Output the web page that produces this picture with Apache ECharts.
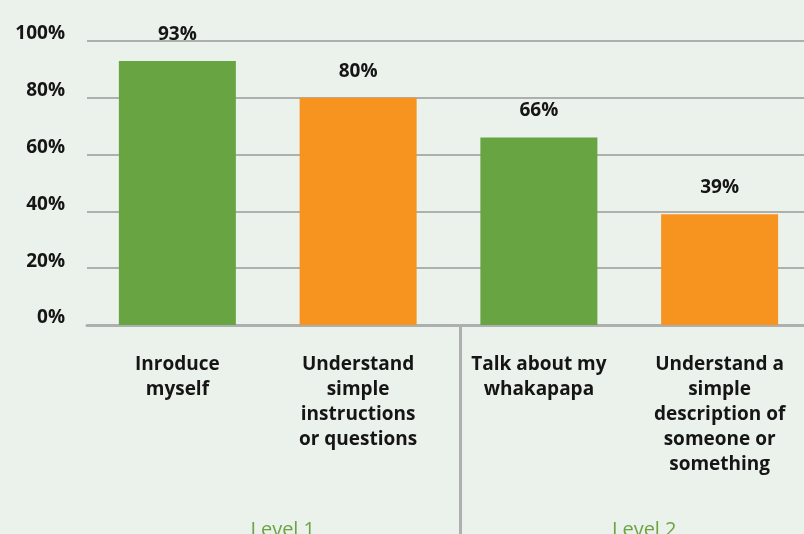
<!DOCTYPE html>
<html>
<head>
<meta charset="utf-8">
<script src="https://cdn.jsdelivr.net/npm/echarts@6/dist/echarts.min.js"></script>
<style>
  html, body { margin: 0; padding: 0; background: #ebf1eb; }
  #main { width: 804px; height: 534px; }
</style>
</head>
<body>
<div id="main"></div>
<script>
// skills asked about, in order of the bars
var categories = [
  'Inroduce\nmyself',
  'Understand\nsimple\ninstructions\nor questions',
  'Talk about my\nwhakapapa',
  'Understand a\nsimple\ndescription of\nsomeone or\nsomething'
];
var values = [93, 80, 66, 39];
var barColors = ['#69a443', '#f7941f', '#69a443', '#f7941f'];
var levels = ['Level 1', 'Level 2'];
var yTicks = [0, 20, 40, 60, 80, 100];

var font = '"Open Sans", Lato, sans-serif';
var myChart = echarts.init(document.getElementById('main'));

var option = {
  backgroundColor: '#ebf1eb',
  animation: false,
  grid: { left: 87, right: -6, top: 41, bottom: 209, containLabel: false, outerBoundsMode: 'none' },
  xAxis: [{
    type: 'category',
    data: categories,
    axisLine: { lineStyle: { color: '#aeb0b0', width: 3 } },
    axisTick: { show: false },
    axisLabel: {
      interval: 0,
      margin: 27,
      color: '#151515',
      fontFamily: font,
      fontWeight: 'bold',
      fontSize: 19,
      lineHeight: 25
    }
  }, {
    type: 'category',
    position: 'bottom',
    data: levels,
    axisLine: { show: false },
    axisTick: { show: false },
    axisLabel: {
      margin: 195,
      padding: [0, 0, 0, 30],
      color: '#6aa443',
      fontFamily: font,
      fontSize: 20
    }
  }],
  yAxis: {
    type: 'value',
    min: yTicks[0],
    max: yTicks[yTicks.length - 1],
    interval: 20,
    axisLine: { show: false },
    axisTick: { show: false },
    axisLabel: {
      margin: 22,
      color: '#151515',
      fontFamily: font,
      fontWeight: 'bold',
      fontSize: 19,
      verticalAlign: 'bottom',
      lineHeight: 14
    },
    splitLine: { lineStyle: { color: '#aeb0b0', width: 2 } }
  },
  series: [{
    type: 'bar',
    barWidth: 117,
    data: values.map(function (v, i) {
      return { value: v, itemStyle: { color: barColors[i] } };
    }),
    label: {
      show: true,
      position: 'top',
      distance: 17,
      formatter: '{c}%',
      color: '#151515',
      fontFamily: font,
      fontWeight: 'bold',
      fontSize: 19
    }
  }]
};
option.yAxis.axisLabel.formatter = '{value}%';
myChart.setOption(option);

// divider between the two levels, placed halfway between bar 2 and bar 3
var x1 = myChart.convertToPixel({ xAxisIndex: 0 }, categories[1]);
var x2 = myChart.convertToPixel({ xAxisIndex: 0 }, categories[2]);
var y0 = myChart.convertToPixel({ yAxisIndex: 0 }, 0);
var xm = (x1 + x2) / 2 + 12;
myChart.setOption({
  graphic: [{
    type: 'line',
    shape: { x1: xm, y1: y0 + 2, x2: xm, y2: 534 },
    style: { stroke: '#aeb0b0', lineWidth: 3 }
  }]
});
</script>
</body>
</html>
